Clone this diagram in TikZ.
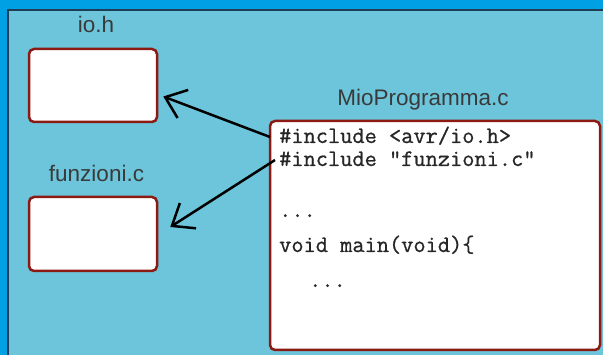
\documentclass[tikz,border=0pt]{standalone}
\usepackage{fontspec}
\setmainfont{Liberation Sans}
\newfontfamily\codefont{Latin Modern Mono}[FakeBold=0.8]
\usetikzlibrary{arrows.meta}
\definecolor{outerblue}{HTML}{00A0E4}
\definecolor{innerblue}{HTML}{6CC5DB}
\definecolor{frameline}{HTML}{1E3E55}
\definecolor{boxred}{HTML}{8B1A12}
\definecolor{labelgray}{HTML}{3A3A3A}
\begin{document}
\begin{tikzpicture}[x=1pt,y=-1pt,
  filebox/.style={draw=boxred, line width=2.5pt, fill=white, rounded corners=5pt, inner sep=0pt},
  title/.style={font=\fontsize{22.5}{22.5}\selectfont, text=labelgray, inner sep=0pt, anchor=base},
  code/.style={font=\codefont\fontsize{23.7}{23.7}\selectfont, text=black!85, inner sep=0pt, anchor=base west, text height=13pt, text depth=3pt},
  link/.style={line width=2.5pt, -{Straight Barb[length=19pt,width=30pt,line width=2.5pt]}}]
  % background
  \useasboundingbox (0,0) rectangle (603,355);
  \fill[outerblue] (0,0) rectangle (603,355);
  \fill[innerblue] (8,10.5) rectangle (605,357);
  \draw[frameline, line width=1.5pt] (7.75,357) -- (7.75,10.25) -- (605,10.25);
  % boxes
  \node[filebox, minimum width=128pt, minimum height=73pt] (io) at (93,85.5) {};
  \node[filebox, minimum width=128pt, minimum height=74pt] (funz) at (93,234) {};
  \node[filebox, minimum width=330pt, minimum height=229pt] (main) at (435,235.5) {};
  % titles
  \node[title] (tio) at (96,33) {io.h};
  \node[title] (tfunz) at (96.5,182) {funzioni.c};
  \node[title] (tmain) at (423,106) {MioProgramma.c};
  % code
  \node[code] (l1) at (279,143) {\#include <avr/io.h>};
  \node[code] (l2) at (279,166) {\#include "funzioni.c"};
  \node[code] (l3) at (279,217) {...};
  \node[code] (l4) at (279,252) {void main(void)\{};
  \node[code] (l5) at (309,287) {...};
  % connectors
  \draw[link] ([xshift=-9pt,yshift=1pt]l1.west) -- ([xshift=5pt,yshift=-11pt]io.east);
  \draw[link] ([xshift=-4pt,yshift=1pt]l2.west) -- ([xshift=12pt,yshift=7pt]funz.east);
\end{tikzpicture}
\end{document}
